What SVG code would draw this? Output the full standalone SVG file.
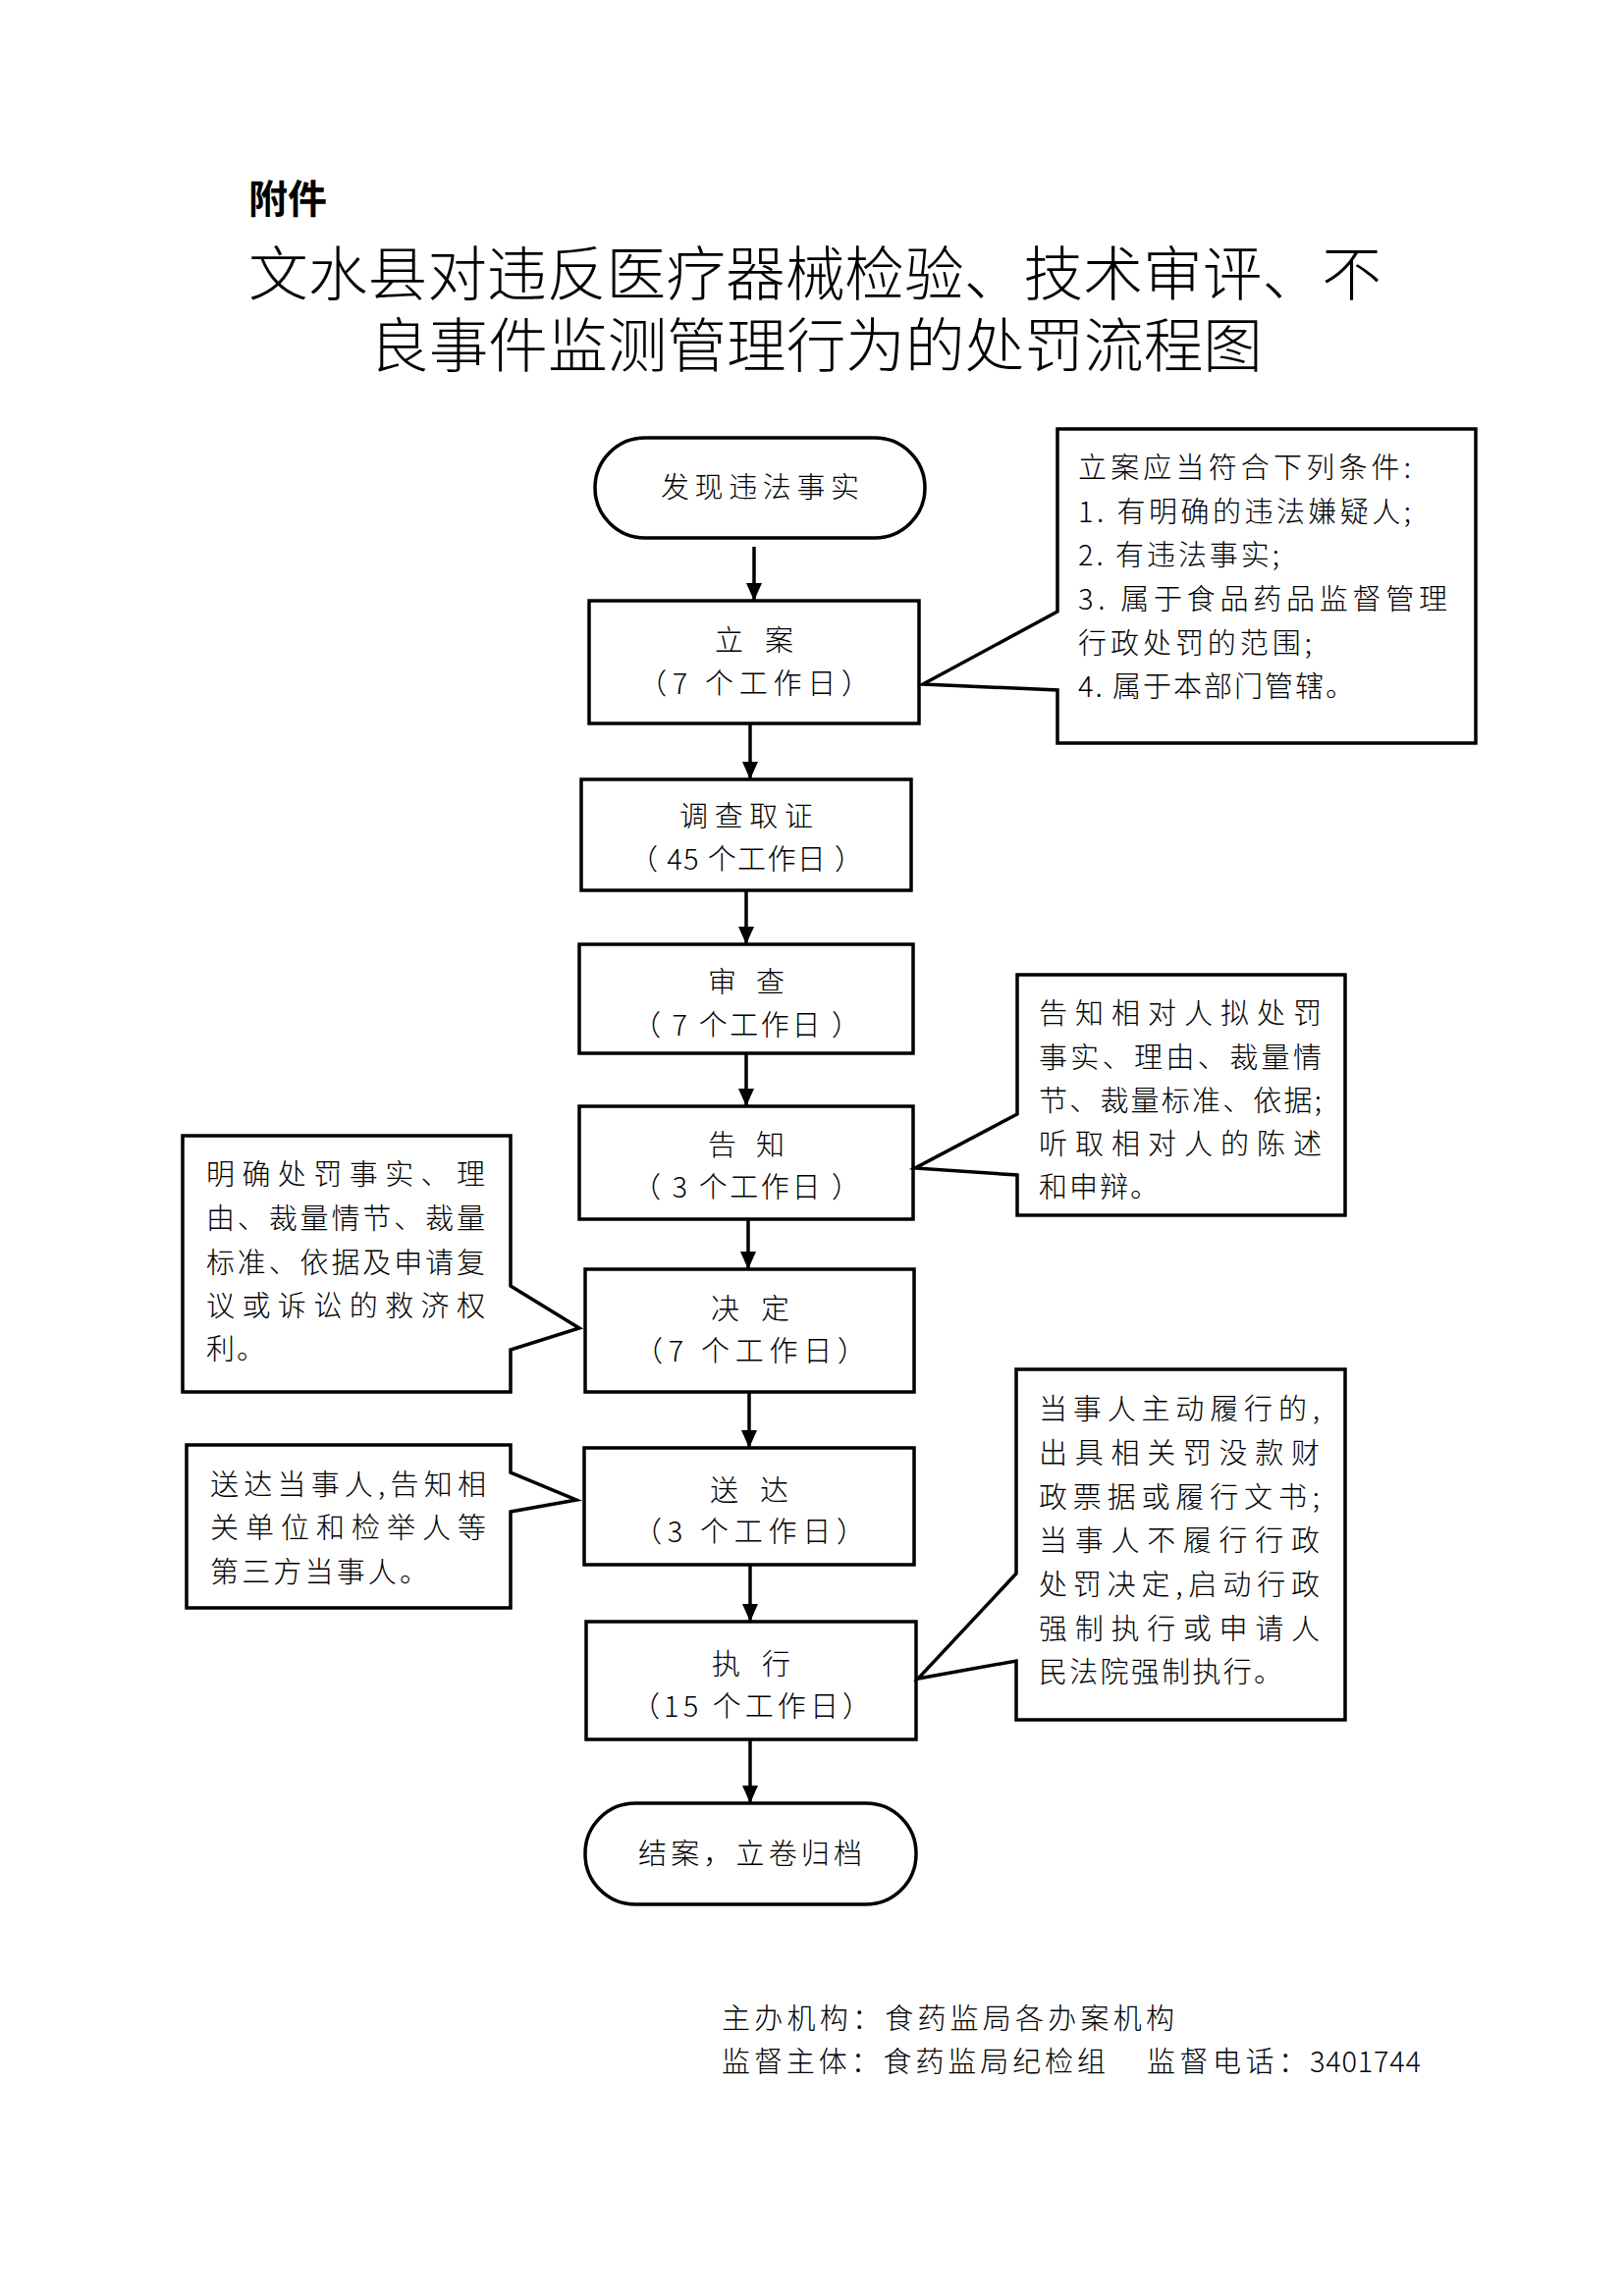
<svg xmlns="http://www.w3.org/2000/svg" width="1654" height="2339" viewBox="0 0 1654 2339">
<style>
  text { font-family: "Noto Sans CJK SC", "Liberation Sans", sans-serif; fill: #000; }
  .t { font-size: 29px; font-weight: 300; }
  .c { text-anchor: middle; }
  .title { font-size: 60px; font-weight: 300; }
  .box { fill: #fff; stroke: #000; stroke-width: 3.5; }
  .conn { fill: none; stroke: #000; stroke-width: 3.5; marker-end: url(#arr); }
</style>
<defs>
  <marker id="arr" markerUnits="userSpaceOnUse" markerWidth="18" markerHeight="16" viewBox="0 0 18 16" refX="18" refY="8" orient="auto">
    <path d="M0,0 L18,8 L0,16 Z" fill="#000"/>
  </marker>
</defs>
<rect width="1654" height="2339" fill="#fff"/>

<g id="header">
  <text x="253" y="217" style="font-size:40px;font-weight:bold" textLength="80" lengthAdjust="spacing">附件</text>
  <text class="title" x="253" y="301" textLength="1154" lengthAdjust="spacingAndGlyphs">文水县对违反医疗器械检验、技术审评、不</text>
  <text class="title" x="376" y="374" textLength="910" lengthAdjust="spacingAndGlyphs">良事件监测管理行为的处罚流程图</text>
</g>

<g id="n_start">
  <rect class="box" x="606" y="446" width="336" height="102" rx="51" ry="51"/>
  <text class="t c" x="774" y="507" textLength="202" lengthAdjust="spacing">发现违法事实</text>
</g>
<g id="n_lian">
  <rect class="box" x="600" y="612" width="336" height="125"/>
  <text class="t c" x="768" y="663" textLength="80" lengthAdjust="spacing">立 案</text>
  <text class="t c" x="768" y="707" textLength="236" lengthAdjust="spacing">（7 个工作日）</text>
</g>
<g id="n_diaocha">
  <rect class="box" x="592" y="794" width="336" height="113"/>
  <text class="t c" x="760" y="842" textLength="136" lengthAdjust="spacing">调查取证</text>
  <text class="t c" x="760" y="886" textLength="238" lengthAdjust="spacing">（ 45 个工作日 ）</text>
</g>
<g id="n_shencha">
  <rect class="box" x="590" y="962" width="340" height="111"/>
  <text class="t c" x="760" y="1011" textLength="78" lengthAdjust="spacing">审 查</text>
  <text class="t c" x="760" y="1055" textLength="232" lengthAdjust="spacing">（ 7 个工作日 ）</text>
</g>
<g id="n_gaozhi">
  <rect class="box" x="590" y="1127" width="340" height="115"/>
  <text class="t c" x="760" y="1177" textLength="78" lengthAdjust="spacing">告 知</text>
  <text class="t c" x="760" y="1220" textLength="232" lengthAdjust="spacing">（ 3 个工作日 ）</text>
</g>
<g id="n_jueding">
  <rect class="box" x="596" y="1293" width="335" height="125"/>
  <text class="t c" x="764" y="1344" textLength="80" lengthAdjust="spacing">决 定</text>
  <text class="t c" x="764" y="1387" textLength="236" lengthAdjust="spacing">（7 个工作日）</text>
</g>
<g id="n_songda">
  <rect class="box" x="595" y="1475" width="336" height="119"/>
  <text class="t c" x="763" y="1529" textLength="80" lengthAdjust="spacing">送 达</text>
  <text class="t c" x="763" y="1571" textLength="236" lengthAdjust="spacing">（3 个工作日）</text>
</g>
<g id="n_zhixing">
  <rect class="box" x="597" y="1652" width="336" height="120"/>
  <text class="t c" x="765" y="1706" textLength="80" lengthAdjust="spacing">执 行</text>
  <text class="t c" x="765" y="1749" textLength="244" lengthAdjust="spacing">（15 个工作日）</text>
</g>
<g id="n_end">
  <rect class="box" x="596" y="1837" width="337" height="103" rx="51" ry="51"/>
  <text class="t c" x="764" y="1899" textLength="228" lengthAdjust="spacing">结案，立卷归档</text>
</g>

<g id="note_lian">
  <path class="box" d="M1077,437 H1503 V757 H1077 V703 L940,697 L1077,623 Z"/>
  <text class="t" x="1098" y="487" textLength="339" lengthAdjust="spacing">立案应当符合下列条件:</text>
  <text class="t" x="1098" y="532" textLength="339" lengthAdjust="spacing">1. 有明确的违法嫌疑人;</text>
  <text class="t" x="1098" y="576" textLength="205" lengthAdjust="spacing">2. 有违法事实;</text>
  <text class="t" x="1098" y="621" textLength="376" lengthAdjust="spacing">3. 属于食品药品监督管理</text>
  <text class="t" x="1098" y="666" textLength="238" lengthAdjust="spacing">行政处罚的范围;</text>
  <text class="t" x="1098" y="710" textLength="281" lengthAdjust="spacing">4. 属于本部门管辖。</text>
</g>

<g id="note_gaozhi">
  <path class="box" d="M1036,993 H1370 V1238 H1036 V1197 L932,1190 L1036,1135 Z"/>
  <text class="t" x="1058" y="1043" textLength="288" lengthAdjust="spacing">告知相对人拟处罚</text>
  <text class="t" x="1058" y="1088" textLength="288" lengthAdjust="spacing">事实、理由、裁量情</text>
  <text class="t" x="1058" y="1132" textLength="288" lengthAdjust="spacing">节、裁量标准、依据;</text>
  <text class="t" x="1058" y="1176" textLength="288" lengthAdjust="spacing">听取相对人的陈述</text>
  <text class="t" x="1058" y="1220" textLength="122" lengthAdjust="spacing">和申辩。</text>
</g>

<g id="note_jueding">
  <path class="box" d="M186,1157 H520 V1310 L590,1353 L520,1375 V1418 H186 Z"/>
  <text class="t" x="210" y="1207" textLength="284" lengthAdjust="spacing">明确处罚事实、理</text>
  <text class="t" x="210" y="1252" textLength="284" lengthAdjust="spacing">由、裁量情节、裁量</text>
  <text class="t" x="210" y="1297" textLength="284" lengthAdjust="spacing">标准、依据及申请复</text>
  <text class="t" x="210" y="1341" textLength="284" lengthAdjust="spacing">议或诉讼的救济权</text>
  <text class="t" x="210" y="1385" textLength="60" lengthAdjust="spacing">利。</text>
</g>

<g id="note_songda">
  <path class="box" d="M190,1472 H520 V1500 L587,1528 L520,1540 V1638 H190 Z"/>
  <text class="t" x="214" y="1523" textLength="281" lengthAdjust="spacing">送达当事人,告知相</text>
  <text class="t" x="214" y="1567" textLength="281" lengthAdjust="spacing">关单位和检举人等</text>
  <text class="t" x="214" y="1612" textLength="222" lengthAdjust="spacing">第三方当事人。</text>
</g>

<g id="note_zhixing">
  <path class="box" d="M1035,1395 H1370 V1752 H1035 V1692 L935,1710 L1035,1603 Z"/>
  <text class="t" x="1058" y="1446" textLength="286" lengthAdjust="spacing">当事人主动履行的,</text>
  <text class="t" x="1058" y="1491" textLength="286" lengthAdjust="spacing">出具相关罚没款财</text>
  <text class="t" x="1058" y="1536" textLength="286" lengthAdjust="spacing">政票据或履行文书;</text>
  <text class="t" x="1058" y="1580" textLength="286" lengthAdjust="spacing">当事人不履行行政</text>
  <text class="t" x="1058" y="1625" textLength="286" lengthAdjust="spacing">处罚决定,启动行政</text>
  <text class="t" x="1058" y="1670" textLength="286" lengthAdjust="spacing">强制执行或申请人</text>
  <text class="t" x="1058" y="1714" textLength="248" lengthAdjust="spacing">民法院强制执行。</text>
</g>

<g id="connectors">
  <line class="conn" x1="768" y1="557" x2="768" y2="612"/>
  <line class="conn" x1="764" y1="737" x2="764" y2="794"/>
  <line class="conn" x1="760" y1="907" x2="760" y2="962"/>
  <line class="conn" x1="760" y1="1073" x2="760" y2="1127"/>
  <line class="conn" x1="762" y1="1242" x2="762" y2="1293"/>
  <line class="conn" x1="763" y1="1418" x2="763" y2="1475"/>
  <line class="conn" x1="764" y1="1594" x2="764" y2="1652"/>
  <line class="conn" x1="764" y1="1772" x2="764" y2="1837"/>
</g>

<g id="footer">
  <text class="t" x="735" y="2067" textLength="461" lengthAdjust="spacing">主办机构：食药监局各办案机构</text>
  <text class="t" x="735" y="2111" textLength="391" lengthAdjust="spacing">监督主体：食药监局纪检组</text>
  <text class="t" x="1168" y="2111" textLength="163" lengthAdjust="spacing">监督电话：</text>
  <text class="t" x="1334" y="2111" textLength="113" lengthAdjust="spacing">3401744</text>
</g>
</svg>
